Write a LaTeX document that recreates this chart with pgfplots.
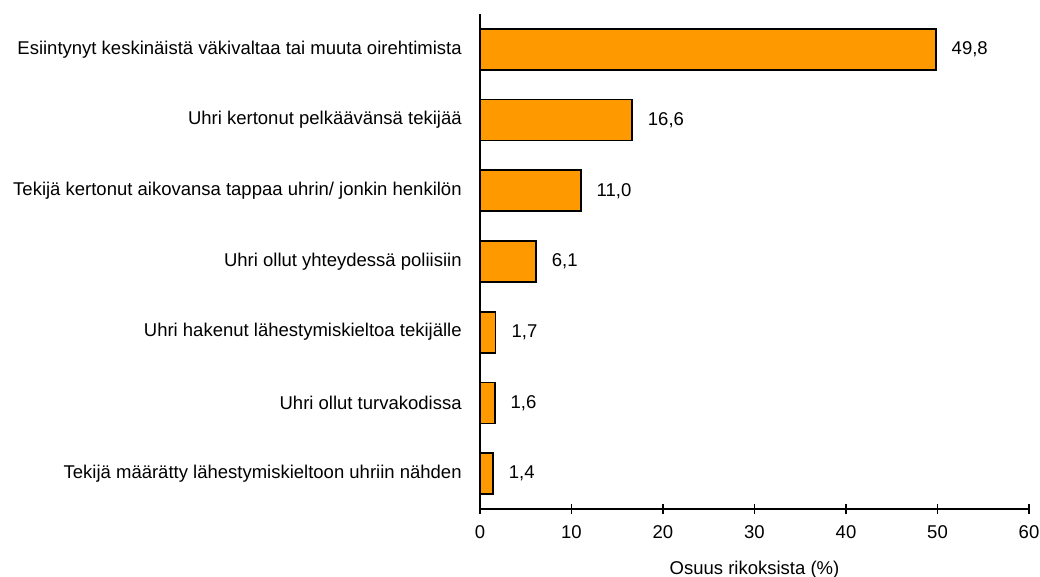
\documentclass[border=0pt]{standalone}
\usepackage{fontspec}
\setmainfont{Liberation Sans}
\usepackage{pgfplots}
\pgfplotsset{compat=1.18}
\definecolor{barorange}{HTML}{FF9900}
\newcommand{\chartfont}{\fontsize{18.5bp}{22bp}\selectfont}
\begin{document}
\chartfont
\begin{tikzpicture}
\begin{axis}[
  at={(480bp,68bp)}, anchor=south west,
  scale only axis,
  width=549bp, height=495bp,
  xbar, bar width=0.58,
  xmin=0, xmax=60,
  ymin=-0.5, ymax=6.5,
  axis lines=left,
  axis line style={-, line width=1.6bp},
  xtick={0,10,20,30,40,50,60},
  xtick align=center,
  x tick style={black, line width=1.2bp},
  major tick length=10bp,
  ytick={0,1,2,3,4,5,6},
  y tick style={draw=none},
  yticklabels={
    Tekijä määrätty lähestymiskieltoon uhriin nähden,
    Uhri ollut turvakodissa,
    Uhri hakenut lähestymiskieltoa tekijälle,
    Uhri ollut yhteydessä poliisiin,
    Tekijä kertonut aikovansa tappaa uhrin/ jonkin henkilön,
    Uhri kertonut pelkäävänsä tekijää,
    Esiintynyt keskinäistä väkivaltaa tai muuta oirehtimista},
  yticklabel style={font=\chartfont, xshift=-7bp},
  xticklabel style={font=\chartfont, yshift=-5bp},
  /pgf/number format/assume math mode=true,
  xlabel={Osuus rikoksista (\%)},
  xlabel style={font=\chartfont, yshift=-10bp},
  nodes near coords,
  nodes near coords style={font=\chartfont, black, xshift=9bp,
    /pgf/number format/.cd, fixed, fixed zerofill, precision=1, use comma, assume math mode=true},
  clip=false,
]
\addplot[fill=barorange, draw=black, line width=1.8bp] coordinates {
  (1.4,0) (1.6,1) (1.7,2) (6.1,3) (11.0,4) (16.6,5) (49.8,6)
};
\end{axis}
\pgfresetboundingbox
\path[use as bounding box] (0,0) rectangle (1040bp,577bp);
\end{tikzpicture}
\end{document}
